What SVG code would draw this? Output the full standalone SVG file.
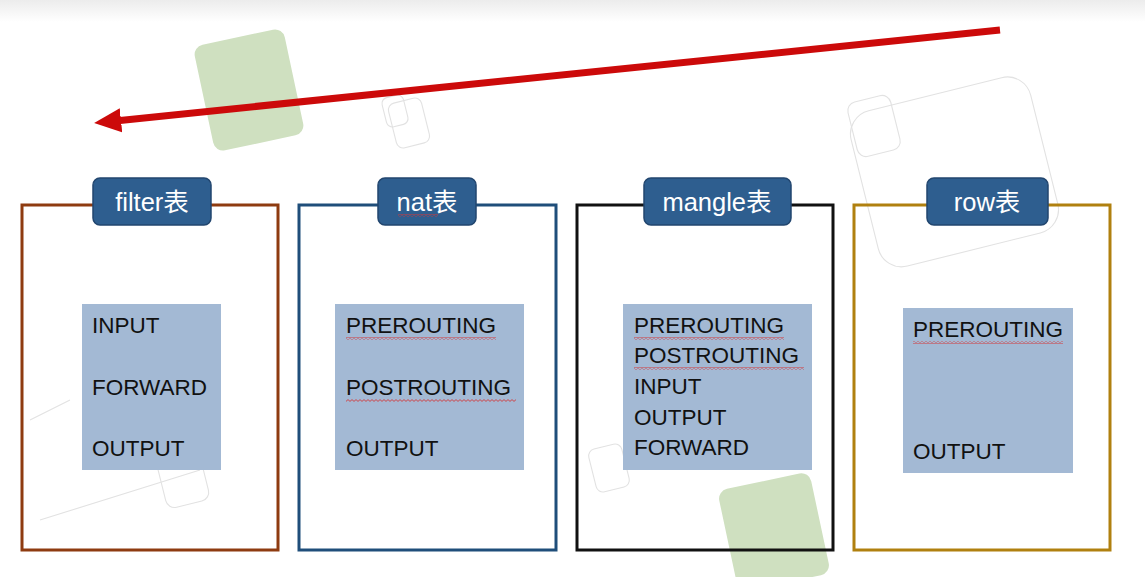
<svg xmlns="http://www.w3.org/2000/svg" width="1145" height="577" viewBox="0 0 1145 577">
<style>
.frame{fill:none;stroke-width:3}
.tab{fill:#2E5E8F;stroke:#22466F;stroke-width:1.5}
.tabtxt{font-family:"Liberation Sans","Noto Sans CJK SC",sans-serif;font-size:25.5px;fill:#ffffff;text-anchor:middle}
.inner{fill:#A3B9D4}
.item{font-family:"Liberation Sans","Noto Sans CJK SC",sans-serif;font-size:22.5px;fill:#111111}
.deco{fill:none;stroke:#e2e2e2;stroke-width:1.1}
.green{fill:#CFE0C0}
</style>
<defs>
<linearGradient id="topband" x1="0" y1="0" x2="0" y2="1">
<stop offset="0" stop-color="#ececec"/>
<stop offset="1" stop-color="#ffffff"/>
</linearGradient>
<pattern id="squiggle" width="4" height="3" patternUnits="userSpaceOnUse">
<path d="M0 0.6 L2 2.4 L4 0.6" fill="none" stroke="#D2383A" stroke-width="0.9"/>
</pattern>
<marker id="head" markerUnits="userSpaceOnUse" markerWidth="27" markerHeight="25" viewBox="0 0 27 25" refX="1" refY="12.5" orient="auto">
<path d="M0 0.5 L27 12.5 L0 24.5 Z" fill="#CC0A0A"/>
</marker>
</defs>
<rect x="0" y="0" width="1145" height="577" fill="#ffffff"/>
<rect x="0" y="0" width="1145" height="22" fill="url(#topband)"/>
<!-- background decorations -->
<g id="background">
<rect class="green" x="203" y="36" width="92" height="108" rx="10" transform="rotate(-12 249 90)"/>
<rect class="green" x="727" y="480" width="94" height="104" rx="10" transform="rotate(-12 774 532)"/>
<rect class="deco" x="392" y="100" width="34" height="46" rx="7" transform="rotate(-14 409 123)"/>
<rect class="deco" x="384" y="96" width="22" height="30" rx="6" transform="rotate(-14 395 111)"/>
<rect class="deco" x="862" y="92" width="185" height="160" rx="24" transform="rotate(-14 954 172)"/>
<rect class="deco" x="852" y="98" width="44" height="56" rx="9" transform="rotate(-14 874 126)"/>
<rect class="deco" x="160" y="445" width="44" height="60" rx="9" transform="rotate(-14 182 475)"/>
<path class="deco" d="M30 420 L70 400 M40 520 L200 470"/>
<rect class="deco" x="592" y="446" width="34" height="44" rx="7" transform="rotate(-14 609 468)"/>
</g>
<!-- connectors -->
<g id="connectors">
<line x1="1000" y1="30" x2="120" y2="120.4" stroke="#CC0A0A" stroke-width="7" marker-end="url(#head)"/>
</g>
<!-- filter -->
<g id="filter">
<rect class="frame" x="22" y="205" width="256" height="345" stroke="#8E3B10"/>
<rect class="tab" x="93" y="178" width="118" height="47" rx="7"/>
<text class="tabtxt" x="152" y="211">filter表</text>
<rect class="inner" x="82" y="304" width="139" height="166"/>
<text class="item" x="92" y="333">INPUT</text>
<text class="item" x="92" y="395">FORWARD</text>
<text class="item" x="92" y="456">OUTPUT</text>
</g>
<!-- nat -->
<g id="nat">
<rect class="frame" x="299" y="205" width="257" height="345" stroke="#1F4E7A"/>
<rect class="tab" x="378" y="178" width="98" height="47" rx="7"/>
<text class="tabtxt" x="427" y="211">nat表</text>
<rect x="398" y="214" width="40" height="3" fill="url(#squiggle)"/>
<rect class="inner" x="335" y="304" width="189" height="166"/>
<text class="item" x="346" y="333">PREROUTING</text>
<rect x="346" y="337" width="150" height="3" fill="url(#squiggle)"/>
<text class="item" x="346" y="395">POSTROUTING</text>
<rect x="346" y="399" width="170" height="3" fill="url(#squiggle)"/>
<text class="item" x="346" y="456">OUTPUT</text>
</g>
<!-- mangle -->
<g id="mangle">
<rect class="frame" x="577" y="205" width="256" height="345" stroke="#111111"/>
<rect class="tab" x="644" y="178" width="147" height="47" rx="7"/>
<text class="tabtxt" x="717" y="211">mangle表</text>
<rect class="inner" x="623" y="304" width="189" height="166"/>
<text class="item" x="634" y="333">PREROUTING</text>
<rect x="634" y="337" width="150" height="3" fill="url(#squiggle)"/>
<text class="item" x="634" y="363">POSTROUTING</text>
<rect x="634" y="367" width="170" height="3" fill="url(#squiggle)"/>
<text class="item" x="634" y="394">INPUT</text>
<text class="item" x="634" y="425">OUTPUT</text>
<text class="item" x="634" y="455">FORWARD</text>
</g>
<!-- row -->
<g id="row">
<rect class="frame" x="854" y="205" width="256" height="345" stroke="#B0800F"/>
<rect class="tab" x="927" y="178" width="121" height="47" rx="7"/>
<text class="tabtxt" x="987" y="211">row表</text>
<rect class="inner" x="903" y="308" width="170" height="165"/>
<text class="item" x="913" y="337">PREROUTING</text>
<rect x="913" y="341" width="150" height="3" fill="url(#squiggle)"/>
<text class="item" x="913" y="459">OUTPUT</text>
</g>
</svg>
